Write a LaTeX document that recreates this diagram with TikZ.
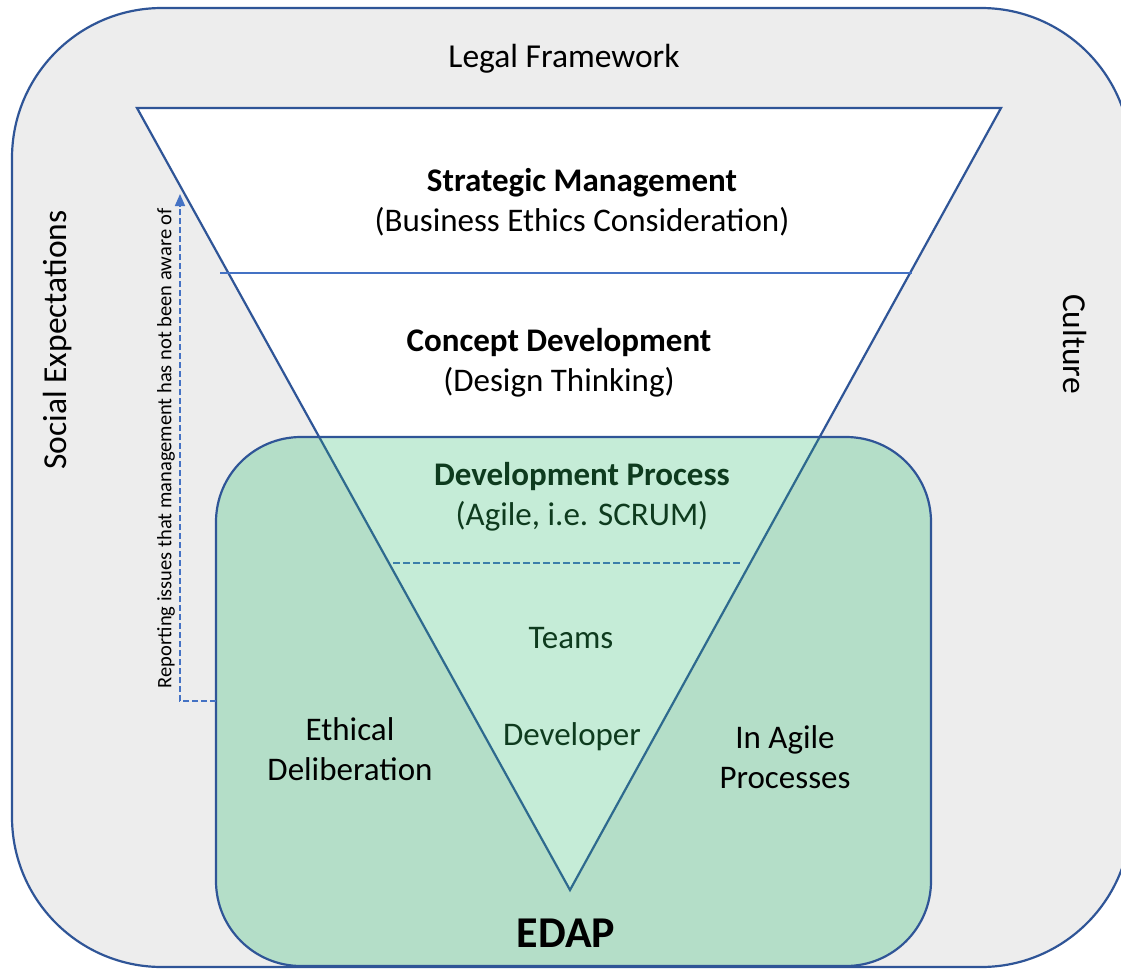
\documentclass[tikz,border=0pt]{standalone}
\usepackage{fontspec}
\setmainfont{Carlito}
\usetikzlibrary{arrows.meta}
\definecolor{outerfill}{HTML}{EDEDED}
\definecolor{darkblue}{HTML}{2F5597}
\definecolor{midblue}{HTML}{4472C4}
\definecolor{greendark}{HTML}{B4DEC8}
\definecolor{greenlight}{HTML}{C5ECD7}
\definecolor{tealline}{HTML}{2E6A8E}
\definecolor{dashteal}{HTML}{3C7FAA}
\definecolor{textgreen}{HTML}{0E3B1E}
\tikzset{
  lbl/.style={font=\fontsize{33}{39.5}\selectfont, align=center, inner sep=0pt},
  lblgreen/.style={lbl, text=textgreen},
  sidelbl/.style={font=\fontsize{33.5}{39}\selectfont, inner sep=0pt},
  smalllbl/.style={font=\fontsize{20.5}{24}\selectfont, inner sep=0pt},
  border/.style={draw=darkblue, line width=2.2pt},
}
\begin{document}
\begin{tikzpicture}[x=1pt,y=-1pt]
\useasboundingbox (0,0) rectangle (1121,969);
\clip (0,0) rectangle (1121,969);
% outer frame
\path[border, fill=outerfill, rounded corners=150pt] (12,8) rectangle (1131,967);
% funnel triangle
\path[border, fill=white] (137,108) -- (1001,108) -- (570,890) -- cycle;
\draw[midblue, line width=1.6pt] (220,273) -- (912,273);
% green area
\fill[greendark, rounded corners=85pt] (216,437) rectangle (931,966);
\begin{scope}
  \clip[rounded corners=85pt] (216,437) rectangle (931,966);
  \fill[greenlight] (137,108) -- (1001,108) -- (570,890) -- cycle;
  \draw[tealline, line width=2.2pt, line join=miter] (137,108) -- (570,890) -- (1001,108);
\end{scope}
\draw[border, rounded corners=85pt] (216,437) rectangle (931,966);
\draw[dashteal, line width=1.8pt, dash pattern=on 7pt off 3pt] (393,563) -- (742,563);
% dashed arrow
\coordinate (arrStart) at (216,701);
\coordinate (arrBend) at (180,701);
\coordinate (arrEnd) at (180,194);
\draw[midblue, line width=1.6pt, dash pattern=on 6pt off 3pt, -{Triangle[length=12pt,width=10pt]}] (arrStart) -- (arrBend) -- (arrEnd);
% texts
\node[sidelbl] (legal) at (564,59) {Legal Framework};
\node[sidelbl, rotate=90] (social) at (58,340) {Social Expectations};
\node[sidelbl, rotate=-90] (culture) at (1075,344) {Culture};
\node[smalllbl, rotate=90] (report) at (166,448) {Reporting issues that management has not been aware of};
\node[lbl] (strat) at (582,202) {\textbf{Strategic Management}\\(Business Ethics Consideration)};
\node[lbl] (concept) at (559,363) {\textbf{Concept Development}\\(Design Thinking)};
\node[lblgreen] (devproc) at (582,497) {\textbf{Development Process}\\(Agile, i.e. SCRUM)};
\node[lblgreen] (teams) at (571,638) {Teams};
\node[lblgreen] (developer) at (572,737) {Developer};
\node[lbl] (ethical) at (350,749) {Ethical\\Deliberation};
\node[lbl] (agile) at (785,757) {In Agile\\Processes};
\node[font=\fontsize{44}{50}\selectfont\bfseries, inner sep=0pt] (edap) at (566,933) {EDAP};
\end{tikzpicture}
\end{document}
